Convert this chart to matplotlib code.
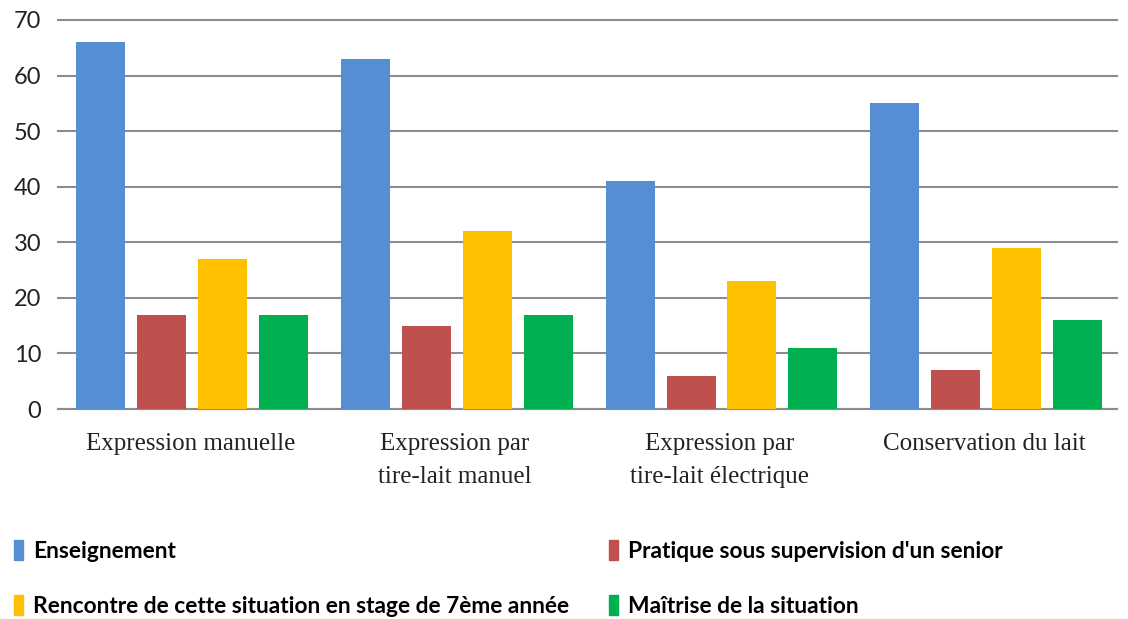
import numpy as np
import matplotlib
matplotlib.use("Agg")
import matplotlib.pyplot as plt
from matplotlib.patches import Patch

categories = [
    "Expression manuelle",
    "Expression par\ntire-lait manuel",
    "Expression par\ntire-lait électrique",
    "Conservation du lait",
]
series_names = [
    "Enseignement",
    "Pratique sous supervision d'un senior",
    "Rencontre de cette situation en stage de 7ème année",
    "Maîtrise de la situation",
]
enseignement = [66, 63, 41, 55]
pratique = [17, 15, 6, 7]
rencontre = [27, 32, 23, 29]
maitrise = [17, 17, 11, 16]
colors = ["#558ED5", "#C0504D", "#FFC000", "#00B050"]

values = [enseignement, pratique, rencontre, maitrise]

fig = plt.figure(figsize=(11.28, 6.19), dpi=100)
ax = fig.add_axes([58 / 1128, 1 - 409 / 619, (1117 - 58) / 1128, (409 - 20) / 619])

x = np.arange(len(categories))
step = 0.23
width = 0.185
for i, (vals, col) in enumerate(zip(values, colors)):
    ax.bar(x + (i - 1.5) * step + 0.006, vals, width, color=col, zorder=3)

ax.set_xlim(-0.5, len(categories) - 0.5)
ax.set_ylim(0, 70)
ax.set_yticks(range(0, 71, 10))
ax.grid(axis="y", color="#8c8c8c", linewidth=1.5, zorder=0)
for gl in ax.get_ygridlines():
    gl.set_clip_on(False)
for s in ["top", "right", "left"]:
    ax.spines[s].set_visible(False)
ax.spines["bottom"].set_color("#8c8c8c")
ax.spines["bottom"].set_linewidth(1.5)
ax.tick_params(axis="both", length=0)
ax.tick_params(axis="y", labelsize=17, pad=12, labelcolor="#222222")
for lab in ax.get_yticklabels():
    lab.set_fontfamily("Lato")
ax.set_xticks(x)
ax.set_xticklabels(categories, fontfamily="Liberation Serif", fontsize=18,
                   linespacing=1.65, color="#222222")
ax.tick_params(axis="x", pad=17)

legend_font = {"family": ["Lato", "DejaVu Sans"], "weight": "bold", "size": 16.4}
handles = [Patch(color=c) for c in colors]
for idx, x0 in [((0, 2), 14), ((1, 3), 609)]:
    fig.legend([handles[k] for k in idx], [series_names[k] for k in idx],
               loc="upper left", bbox_to_anchor=(x0 / 1128, 1 - 540 / 619),
               frameon=False, prop=legend_font, borderpad=0, borderaxespad=0,
               handlelength=0.4, handleheight=1.0, handletextpad=0.45,
               labelspacing=1.45)

fig.savefig("out.png", dpi=100)
